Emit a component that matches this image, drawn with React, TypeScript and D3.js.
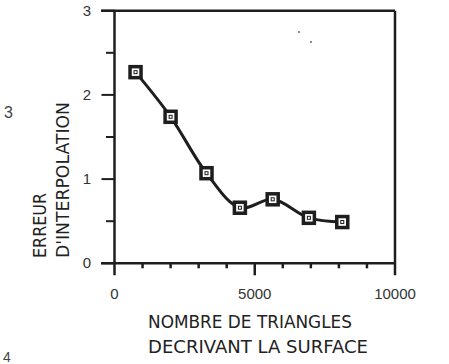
import React from "react";
import * as d3 from "d3";

const triangles = [750, 2000, 3280, 4470, 5640, 6930, 8120];
const errors = [2.27, 1.74, 1.07, 0.66, 0.76, 0.54, 0.49];
const xTickLabels = [0, 5000, 10000];
const yTickLabels = [0, 1, 2, 3];
const xMinorTicks = [1000, 2000, 3000, 4000, 6000, 7000, 8000, 9000];
const yMinorTicks = [0.5, 1.5, 2.5];
const xTitle = ["NOMBRE DE TRIANGLES", "DECRIVANT LA SURFACE"];
const yTitle = ["ERREUR", "D'INTERPOLATION"];

const W = 449, H = 364;
const L = 114.5, R = 395, T = 10.7, B = 263.3;

export default function App() {
  const x = d3.scaleLinear().domain([0, 10000]).range([L, R]);
  const y = d3.scaleLinear().domain([0, 3]).range([B, T]);
  const pts = triangles.map((t, i) => [x(t), y(errors[i])] as [number, number]);
  const line = d3.line().curve(d3.curveCatmullRom.alpha(0.5))(pts) || "";
  const ink = "#1e1e1e";
  const tickFont = "'Liberation Sans', Arial, sans-serif";
  const titleFont = "'DejaVu Sans', sans-serif";
  return (
    <svg width={W} height={H} style={{ position: "absolute", left: 0, top: 0, background: "#fff" }}>
      <line x1={101} x2={R} y1={T} y2={T} stroke={ink} strokeWidth={2.5} />
      <line x1={L} x2={L} y1={T} y2={B + 12} stroke={ink} strokeWidth={2.5} />
      <line x1={R} x2={R} y1={T} y2={B + 12} stroke={ink} strokeWidth={2.5} />
      <line x1={101} x2={R} y1={B} y2={B} stroke={ink} strokeWidth={2.5} />
      {yTickLabels.map((v) => (
        <g key={"y" + v}>
          <line x1={101.5} x2={L} y1={y(v)} y2={y(v)} stroke={ink} strokeWidth={2} />
          <text x={87} y={y(v) + 5} fontSize={15} fontFamily={tickFont} fill="#333" textAnchor="middle">{v}</text>
        </g>
      ))}
      {yMinorTicks.map((v) => (
        <line key={"ym" + v} x1={106} x2={L} y1={y(v)} y2={y(v)} stroke={ink} strokeWidth={2} />
      ))}
      {xMinorTicks.map((v) => (
        <line key={"xm" + v} x1={x(v)} x2={x(v)} y1={B} y2={B + 5} stroke={ink} strokeWidth={2.5} />
      ))}
      <line x1={x(5000)} x2={x(5000)} y1={B} y2={B + 12} stroke={ink} strokeWidth={2.5} />
      {xTickLabels.map((v) => (
        <text key={"x" + v} x={x(v)} y={299} fontSize={15} fontFamily={tickFont} fill="#333" textAnchor="middle">{v}</text>
      ))}
      {xTitle.map((s, i) => (
        <text key={s} x={148} y={328 + i * 25} fontSize={17} fontFamily={titleFont} fill="#222" textLength={i === 0 ? 204 : 220} lengthAdjust="spacingAndGlyphs">{s}</text>
      ))}
      {yTitle.map((s, i) => (
        <text key={s} transform={`translate(${46 + i * 23},258) rotate(-90)`} fontSize={17} fontFamily={titleFont} fill="#222" textLength={i === 0 ? 65 : 156} lengthAdjust="spacingAndGlyphs">{s}</text>
      ))}
      <text x={4} y={118} fontSize={16} fontFamily={tickFont} fill="#444">3</text>
      <text x={3} y={362} fontSize={14} fontFamily={tickFont} fill="#444">4</text>
      <circle cx={299} cy={32} r={0.9} fill="#555" />
      <circle cx={311} cy={42} r={0.9} fill="#555" />
      <path d={line} fill="none" stroke={ink} strokeWidth={3} />
      {pts.map(([px, py], i) => (
        <g key={i}>
          <rect x={px - 5.5} y={py - 5.5} width={11} height={11} fill="#fff" stroke={ink} strokeWidth={3.5} />
          <rect x={px - 1.5} y={py - 1.5} width={3} height={3} fill="none" stroke={ink} strokeWidth={1} />
        </g>
      ))}
    </svg>
  );
}
